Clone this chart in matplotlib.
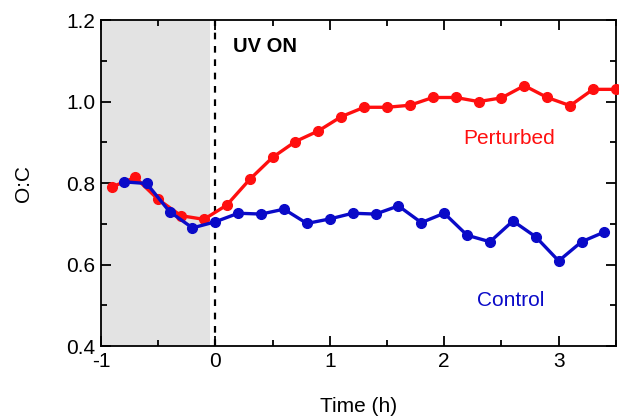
import matplotlib
matplotlib.use("Agg")
import matplotlib.pyplot as plt
from matplotlib.ticker import MultipleLocator

plt.rcParams["font.family"] = ["Liberation Sans", "DejaVu Sans"]
plt.rcParams["axes.unicode_minus"] = False

# Perturbed chamber
perturbed_t = [-0.9, -0.7, -0.5, -0.3, -0.1, 0.1, 0.3, 0.5, 0.7, 0.9, 1.1, 1.3,
               1.5, 1.7, 1.9, 2.1, 2.3, 2.5, 2.7, 2.9, 3.1, 3.3, 3.5]
perturbed_oc = [0.791, 0.814, 0.760, 0.720, 0.711, 0.746, 0.809, 0.863, 0.902,
                0.928, 0.963, 0.986, 0.986, 0.991, 1.010, 1.010, 1.000, 1.009,
                1.039, 1.010, 0.990, 1.030, 1.030]

# Control chamber
control_t = [-0.8, -0.6, -0.4, -0.2, 0.0, 0.2, 0.4, 0.6, 0.8, 1.0, 1.2, 1.4,
             1.6, 1.8, 2.0, 2.2, 2.4, 2.6, 2.8, 3.0, 3.2, 3.4]
control_oc = [0.803, 0.799, 0.730, 0.690, 0.705, 0.726, 0.724, 0.736, 0.701,
              0.712, 0.726, 0.724, 0.744, 0.703, 0.726, 0.672, 0.656, 0.707,
              0.668, 0.609, 0.656, 0.680]

RED = "#ff0f0f"
BLUE = "#0a0ac8"


def main():
    fig = plt.figure(figsize=(6.19, 4.18), dpi=100)
    ax = fig.add_axes([0.163, 0.172, 0.832, 0.780])

    # dark period before UV lights on
    ax.axvspan(-1, -0.05, color="#e3e3e3", lw=0, zorder=0)
    ax.axvline(0, color="black", ls=(0, (3, 3)), lw=1.6, zorder=1)

    ax.plot(perturbed_t, perturbed_oc, "-o", color=RED, lw=2.4, ms=7,
            zorder=3, clip_on=False)
    ax.plot(control_t, control_oc, "-o", color=BLUE, lw=2.4, ms=7,
            zorder=4, clip_on=False)

    ax.text(0.15, 1.134, "UV ON", fontsize=14.5, fontweight="bold",
            ha="left", va="center")
    ax.text(2.57, 0.910, "Perturbed", fontsize=15, color=RED,
            ha="center", va="center")
    ax.text(2.58, 0.513, "Control", fontsize=15, color=BLUE,
            ha="center", va="center")

    ax.set_xlim(-1, 3.5)
    ax.set_ylim(0.4, 1.2)
    ax.xaxis.set_major_locator(MultipleLocator(1))
    ax.xaxis.set_minor_locator(MultipleLocator(0.5))
    ax.yaxis.set_major_locator(MultipleLocator(0.2))
    ax.yaxis.set_minor_locator(MultipleLocator(0.1))
    ax.tick_params(which="both", direction="in", right=True, top=True,
                   labelsize=15, width=1.3, pad=4)
    ax.tick_params(which="major", length=7)
    ax.tick_params(which="minor", length=4)
    for s in ax.spines.values():
        s.set_linewidth(1.3)

    ax.set_xlabel("Time (h)", fontsize=15, labelpad=19)
    ax.set_ylabel("O:C", fontsize=15, labelpad=24)

    fig.savefig("out.png", dpi=100)


if __name__ == "__main__":
    main()
